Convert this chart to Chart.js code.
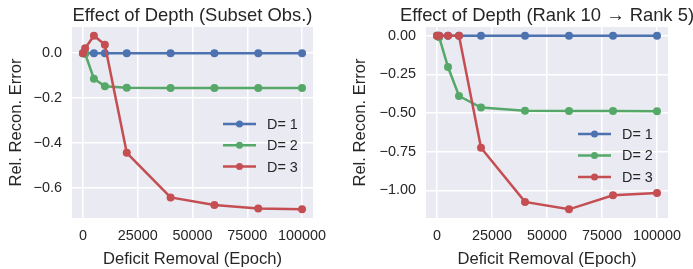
<!DOCTYPE html>
<html>
<head>
<meta charset="utf-8">
<script src="https://cdn.jsdelivr.net/npm/chart.js@4"></script>
<style>
html, body { margin: 0; padding: 0; background: #fff; }
.panel { position: absolute; top: 0; height: 269px; }
#leftWrap { left: 0; width: 346px; }
#rightWrap { left: 346px; width: 347px; }
</style>
</head>
<body>
<div class="panel" id="leftWrap"><canvas id="leftChart" width="346" height="269"></canvas></div>
<div class="panel" id="rightWrap"><canvas id="rightChart" width="347" height="269"></canvas></div>
<script>
// epochs of deficit removal
const epochs = [0, 1000, 5000, 10000, 20000, 40000, 60000, 80000, 100000];
const xTicks = [0, 25000, 50000, 75000, 100000];

// subset observation panel
const subsetD1 = [0, 0, 0, 0, 0, 0, 0, 0, 0];
const subsetD2 = [0, -0.003, -0.114, -0.147, -0.154, -0.155, -0.155, -0.155, -0.155];
const subsetD3 = [0, 0.022, 0.078, 0.038, -0.444, -0.643, -0.677, -0.692, -0.696];
const subsetYTicks = [0, -0.2, -0.4, -0.6];

// rank 10 -> rank 5 panel
const rankD1 = [0, 0, 0, 0, 0, 0, 0, 0, 0];
const rankD2 = [0, -0.01, -0.203, -0.39, -0.465, -0.485, -0.487, -0.487, -0.489];
const rankD3 = [0, 0, 0, 0, -0.725, -1.075, -1.123, -1.032, -1.017];
const rankYTicks = [0, -0.25, -0.5, -0.75, -1.0];

const seriesNames = ['D= 1', 'D= 2', 'D= 3'];
const colors = ['#4C72B0', '#55A868', '#C44E52'];
const FONT = '"Liberation Sans", Arial, sans-serif';
const TEXT = '#262626';

const bgPlugin = {
  id: 'panelBg',
  beforeDraw(chart) {
    const a = chart.chartArea, c = chart.ctx;
    c.save();
    c.fillStyle = '#EAEAF2';
    c.fillRect(a.left, a.top, a.right - a.left, a.bottom - a.top);
    c.restore();
  }
};

const titleLegendPlugin = {
  id: 'titleLegend',
  afterDraw(chart, args, opts) {
    const a = chart.chartArea, c = chart.ctx;
    c.save();
    c.fillStyle = TEXT;
    c.font = '18.4px ' + FONT;
    c.textAlign = 'center';
    c.textBaseline = 'alphabetic';
    c.fillText(opts.title, (a.left + a.right) / 2, 21);
    // legend inside plot
    c.font = '14.4px ' + FONT;
    c.textAlign = 'left';
    c.textBaseline = 'middle';
    chart.data.datasets.forEach((ds, i) => {
      const y = opts.y + i * opts.gap;
      c.strokeStyle = ds.borderColor;
      c.lineWidth = 2.5;
      c.beginPath();
      c.moveTo(opts.x, y);
      c.lineTo(opts.x + 33, y);
      c.stroke();
      c.fillStyle = ds.borderColor;
      c.beginPath();
      c.arc(opts.x + 16.5, y, 3.5, 0, Math.PI * 2);
      c.fill();
      c.fillStyle = TEXT;
      c.fillText(ds.label, opts.x + 44, y + 1);
    });
    c.restore();
  }
};

function makePanel(el, series, yTicks, decimals, yWidth, rightPad, yTitlePad, title, legend) {
  const all = series.flat();
  const lo = Math.min(...all), hi = Math.max(...all);
  const pad = (hi - lo) * 0.05;
  const datasets = series.map((vals, i) => ({
    label: seriesNames[i],
    data: epochs.map((x, j) => ({ x, y: vals[j] })),
    borderColor: colors[i],
    backgroundColor: colors[i],
    borderWidth: 2.5,
    pointRadius: 4,
    pointBorderWidth: 0,
    pointHoverRadius: 4,
    order: 2 - i
  }));
  return new Chart(el, {
    type: 'line',
    data: { datasets },
    options: {
      responsive: false,
      animation: false,
      layout: { padding: { top: 27, right: rightPad, left: 0, bottom: 0 } },
      plugins: {
        legend: { display: false },
        tooltip: { enabled: false },
        titleLegend: { title, x: legend.x, y: legend.y, gap: legend.gap }
      },
      scales: {
        x: {
          type: 'linear',
          min: -5000,
          max: 105000,
          afterBuildTicks: s => { s.ticks = xTicks.map(v => ({ value: v })); },
          afterFit: s => { s.height = 51; },
          border: { display: false },
          grid: { color: '#ffffff', lineWidth: 1.5, drawTicks: false },
          ticks: { color: TEXT, font: { family: FONT, size: 14.4 }, padding: 9, maxRotation: 0,
            callback: v => String(v) },
          title: { display: true, text: 'Deficit Removal (Epoch)', color: TEXT,
            font: { family: FONT, size: 16.6 }, padding: { top: 2, bottom: 0 } }
        },
        y: {
          type: 'linear',
          min: lo - pad,
          max: hi + pad,
          afterBuildTicks: s => { s.ticks = yTicks.map(v => ({ value: v })); },
          afterFit: s => { s.width = yWidth; },
          border: { display: false },
          grid: { color: '#ffffff', lineWidth: 1.5, drawTicks: false },
          ticks: { color: TEXT, font: { family: FONT, size: 14.4 }, padding: 10,
            callback: v => (v < 0 ? '\u2212' : '') + Math.abs(v).toFixed(decimals) },
          title: { display: true, text: 'Rel. Recon. Error', color: TEXT,
            font: { family: FONT, size: 16.6 }, padding: { top: yTitlePad, bottom: 4 } }
        }
      }
    },
    plugins: [bgPlugin, titleLegendPlugin]
  });
}

makePanel(document.getElementById('leftChart'), [subsetD1, subsetD2, subsetD3], subsetYTicks, 1,
  72, 33, 6.5, 'Effect of Depth (Subset Obs.)', { x: 223, y: 124, gap: 21.3 });
makePanel(document.getElementById('rightChart'), [rankD1, rankD2, rankD3], rankYTicks, 2,
  80, 25, 4.5, 'Effect of Depth (Rank 10 \u2192 Rank 5)', { x: 232, y: 134, gap: 21.5 });
</script>
</body>
</html>
